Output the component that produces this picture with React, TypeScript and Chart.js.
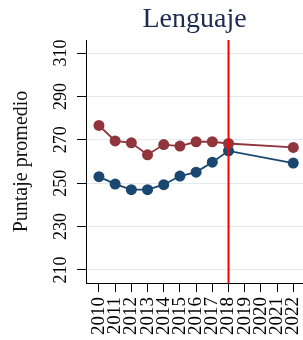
import React, { useEffect, useRef } from "react";
import { Chart, registerables } from "chart.js";

Chart.register(...registerables);

const titleText = "Lenguaje";
const yAxisTitle = "Puntaje promedio";
const years = [2010, 2011, 2012, 2013, 2014, 2015, 2016, 2017, 2018, 2022];
const seriesRed = [276.6, 269.5, 268.6, 263.1, 267.8, 267.1, 269.1, 269.1, 268.3, 266.5];
const seriesBlue = [253.0, 249.6, 247.0, 247.0, 249.3, 253.3, 255.1, 259.7, 264.9, 259.3];
const xTickYears = [2010, 2011, 2012, 2013, 2014, 2015, 2016, 2017, 2018, 2019, 2020, 2021, 2022];
const yTickValues = [210, 230, 250, 270, 290, 310];
const cutYear = 2018;
const yMin = 204;
const yMax = 316;
const xMin = 2009.2;
const xMax = 2022.6;

const FONT = "'Liberation Serif', 'Times New Roman', serif";

const rotatedYTicks = {
  id: "rotatedYTicks",
  afterDraw(chart: any) {
    const s = chart.scales.y;
    const ctx = chart.ctx;
    ctx.save();
    ctx.fillStyle = "#000";
    ctx.font = `18px ${FONT}`;
    ctx.textAlign = "center";
    ctx.textBaseline = "middle";
    const cx = s.right - 9 - 16;
    for (const t of s.ticks) {
      const py = s.getPixelForValue(t.value);
      ctx.save();
      ctx.translate(cx, py);
      ctx.rotate(-Math.PI / 2);
      ctx.fillText(String(t.value), 0, 0);
      ctx.restore();
    }
    ctx.restore();
  },
};

export default function App() {
  const ref = useRef<HTMLCanvasElement | null>(null);

  useEffect(() => {
    if (!ref.current) return;
    const chart = new Chart(ref.current, {
      type: "line",
      data: {
        datasets: [
          {
            label: "corte",
            data: [
              { x: cutYear, y: yMin },
              { x: cutYear, y: yMax },
            ],
            borderColor: "#ff0000",
            borderWidth: 2,
            pointRadius: 0,
            order: 0,
          },
          {
            label: "A",
            data: years.map((x, i) => ({ x, y: seriesRed[i] })),
            borderColor: "#90353b",
            backgroundColor: "#90353b",
            pointBackgroundColor: "#90353b",
            pointBorderWidth: 0,
            pointRadius: 5.5,
            borderWidth: 1.8,
            order: 1,
          },
          {
            label: "B",
            data: years.map((x, i) => ({ x, y: seriesBlue[i] })),
            borderColor: "#1a476f",
            backgroundColor: "#1a476f",
            pointBackgroundColor: "#1a476f",
            pointBorderWidth: 0,
            pointRadius: 5.5,
            borderWidth: 1.8,
            order: 2,
          },
        ],
      },
      options: {
        responsive: false,
        animation: false,
        layout: { padding: 0, autoPadding: false },
        plugins: {
          legend: { display: false },
          tooltip: { enabled: false },
          title: {
            display: true,
            text: titleText,
            fullSize: false,
            color: "#1c2b52",
            font: { family: FONT, size: 28, weight: "normal", lineHeight: 1.2 },
            padding: { top: 3, bottom: 3.4 },
          },
        },
        scales: {
          x: {
            type: "linear",
            min: xMin,
            max: xMax,
            afterBuildTicks: (s: any) => {
              s.ticks = xTickYears.map((v) => ({ value: v }));
            },
            afterFit: (s: any) => {
              s.height = 57;
              s.paddingLeft = 0;
              s.paddingRight = 0;
            },
            ticks: {
              autoSkip: false,
              minRotation: 90,
              maxRotation: 90,
              padding: 5,
              color: "#000",
              font: { family: FONT, size: 19 },
              callback: (v: any) => String(v),
            },
            grid: {
              drawOnChartArea: false,
              drawTicks: true,
              tickLength: 9,
              tickColor: "#000",
            },
            border: { display: true, color: "#000", width: 1 },
          },
          y: {
            type: "linear",
            min: yMin,
            max: yMax,
            afterBuildTicks: (s: any) => {
              s.ticks = yTickValues.map((v) => ({ value: v }));
            },
            afterFit: (s: any) => {
              s.width = 86;
              s.paddingTop = 0;
              s.paddingBottom = 0;
            },
            title: {
              display: true,
              text: yAxisTitle,
              color: "#111",
              font: { family: FONT, size: 20, lineHeight: 1.2 },
              padding: { top: 10, bottom: 4 },
            },
            ticks: {
              display: false,
            },
            grid: {
              color: "#e3ebf0",
              lineWidth: 1,
              drawTicks: true,
              tickLength: 9,
              tickColor: "#000",
            },
            border: { display: true, color: "#000", width: 1 },
          },
        },
      },
      plugins: [rotatedYTicks],
    });
    return () => chart.destroy();
  }, []);

  return (
    <div style={{ position: "absolute", left: 0, top: 0, width: 303, height: 340, background: "#fff" }}>
      <canvas ref={ref} width={303} height={340} style={{ display: "block" }} />
    </div>
  );
}
